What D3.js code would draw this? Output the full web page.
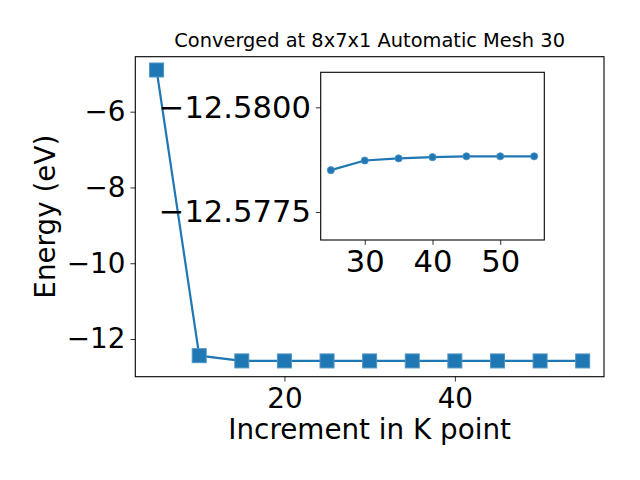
<!DOCTYPE html>
<html><head><meta charset="utf-8">
<script src="https://cdn.jsdelivr.net/npm/d3@7"></script>
<style>body{margin:0;background:#fff;} text{font-family:"DejaVu Sans";fill:#000;}</style>
</head><body>
<svg id="c" width="640" height="480"></svg>
<script>
const title = "Converged at 8x7x1 Automatic Mesh 30";
const xLabel = "Increment in K point";
const yLabel = "Energy (eV)";
const kPoints = [5,10,15,20,25,30,35,40,45,50,55];
const energies = [-4.90,-12.44,-12.578,-12.5785,-12.5785,-12.5787,-12.5788,-12.5788,-12.5788,-12.5788,-12.5788];
const mainXTicks = [20,40];
const mainYTicks = [-12,-10,-8,-6];
const insetK = [25,30,35,40,45,50,55];
const insetE = [-12.57850,-12.57873,-12.57878,-12.57881,-12.57883,-12.57883,-12.57883];
const insetXTicks = [30,40,50];
const insetYTicks = [-12.5800,-12.5775];

const svg = d3.select("#c");
const blue = "#1f77b4";
const fsMain = 27.8, fsInset = 30.6;
const minus = s => s.replace(/-/g,"\u2212");

// main axes
const M = {l:135.3, r:604, t:56.7, b:376.7};
const x = d3.scaleLinear().domain([2.5,57.5]).range([M.l,M.r]);
const y = d3.scaleLinear().domain([-12.995,-4.549]).range([M.b,M.t]);

const line = d3.line().x((d,i)=>x(kPoints[i])).y(d=>y(d));
svg.append("path").datum(energies).attr("d",line).attr("fill","none").attr("stroke",blue).attr("stroke-width",2.2);
svg.selectAll("rect.m").data(energies).enter().append("rect")
  .attr("x",(d,i)=>x(kPoints[i])-7).attr("y",d=>y(d)-7).attr("width",14).attr("height",14)
  .attr("fill",blue).attr("stroke","#4f95c6").attr("stroke-width",1);

function styleAxis(g, fs){
  g.select(".domain").remove();
  g.selectAll("line").attr("stroke","#000").attr("stroke-width",0.8);
  g.selectAll("text").style("font-family","DejaVu Sans").style("font-size",fs+"px").attr("fill","#000");
}
const xAx = svg.append("g").attr("transform",`translate(0,${M.b})`)
  .call(d3.axisBottom(x).tickValues(mainXTicks).tickSize(4.9).tickPadding(4.9).tickFormat(d=>minus(String(d))));
styleAxis(xAx, fsMain); xAx.selectAll("text").attr("dy","0.76em");
const yAx = svg.append("g").attr("transform",`translate(${M.l},0)`)
  .call(d3.axisLeft(y).tickValues(mainYTicks).tickSize(4.9).tickPadding(4.9).tickFormat(d=>minus(String(d))));
styleAxis(yAx, fsMain);
svg.append("rect").attr("x",M.l).attr("y",M.t).attr("width",M.r-M.l).attr("height",M.b-M.t)
  .attr("fill","none").attr("stroke","#000").attr("stroke-width",1.1);

svg.append("text").attr("x",(M.l+M.r)/2).attr("y",47.3).attr("text-anchor","middle").style("font-size","19.4px").text(title);
svg.append("text").attr("x",(M.l+M.r)/2).attr("y",439).attr("text-anchor","middle").style("font-size",fsMain+"px").text(xLabel);
svg.append("text").attr("transform",`translate(55,${(M.t+M.b)/2}) rotate(-90)`).attr("text-anchor","middle").style("font-size",fsMain+"px").text(yLabel);

// inset
const I = {l:320.7, r:544.3, t:72.3, b:240};
const xi = d3.scaleLinear().domain([23.5,56.5]).range([I.l,I.r]);
const yi = d3.scaleLinear().domain([-12.580836,-12.576832]).range([I.t,I.b]);
svg.append("rect").attr("x",I.l).attr("y",I.t).attr("width",I.r-I.l).attr("height",I.b-I.t).attr("fill","#fff");
const linei = d3.line().x((d,i)=>xi(insetK[i])).y(d=>yi(d));
svg.append("path").datum(insetE).attr("d",linei).attr("fill","none").attr("stroke",blue).attr("stroke-width",2.2);
svg.selectAll("circle.i").data(insetE).enter().append("circle")
  .attr("cx",(d,i)=>xi(insetK[i])).attr("cy",d=>yi(d)).attr("r",3.6).attr("fill",blue).attr("stroke","#4f95c6").attr("stroke-width",0.8);
const xiAx = svg.append("g").attr("transform",`translate(0,${I.b})`)
  .call(d3.axisBottom(xi).tickValues(insetXTicks).tickSize(4.9).tickPadding(4.9).tickFormat(d=>String(d)));
styleAxis(xiAx, fsInset);
const yiAx = svg.append("g").attr("transform",`translate(${I.l},0)`)
  .call(d3.axisLeft(yi).tickValues(insetYTicks).tickSize(4.9).tickPadding(4.9).tickFormat(d=>minus(d.toFixed(4))));
styleAxis(yiAx, fsInset);
svg.append("rect").attr("x",I.l).attr("y",I.t).attr("width",I.r-I.l).attr("height",I.b-I.t)
  .attr("fill","none").attr("stroke","#000").attr("stroke-width",1.1);
</script>
</body></html>
